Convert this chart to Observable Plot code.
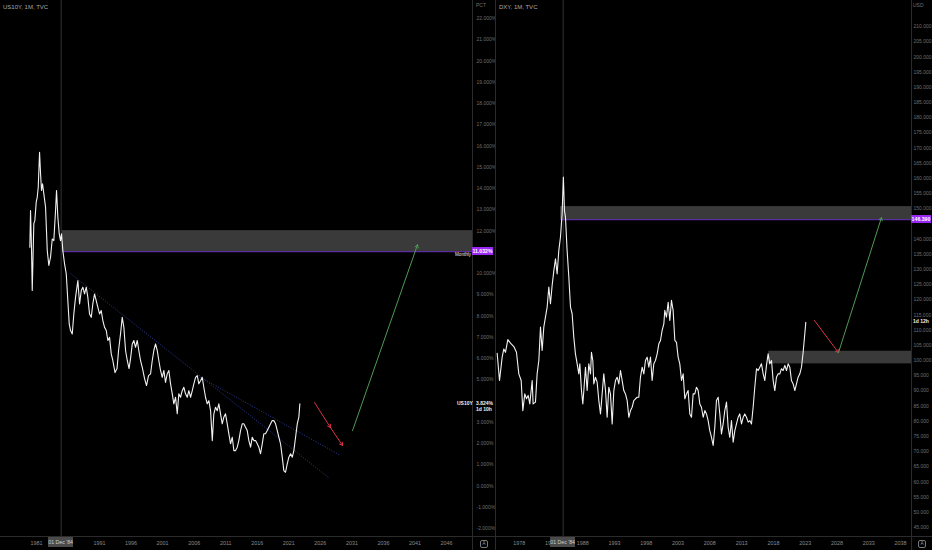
<!DOCTYPE html>
<html><head><meta charset="utf-8">
<script src="https://cdn.jsdelivr.net/npm/d3@7"></script>
<script src="https://cdn.jsdelivr.net/npm/@observablehq/plot@0.6"></script>
<style>
html,body{margin:0;padding:0;background:#000;}
#wrap{position:relative;width:932px;height:550px;overflow:hidden;background:#000;font-family:"Liberation Sans",Arial,sans-serif;}
#left,#right{position:absolute;top:0;}
#left{left:0;} #right{left:495px;}
.lbl{position:absolute;white-space:nowrap;line-height:1;}
</style></head><body><div id="wrap"><div id="left"></div><div id="right"></div></div>
<script>
// ---------- DATA ----------
// US10Y monthly close (decimal year, % yield)
const us10y = [[1979.96,11.24],[1980.07,12.96],[1980.23,11.08],[1980.34,9.20],[1980.59,12.35],[1980.75,12.49],[1980.97,13.36],[1981.13,13.59],[1981.29,14.06],[1981.50,15.71],[1981.66,14.69],[1981.81,13.91],[1981.97,14.22],[1982.18,13.75],[1982.45,13.12],[1982.72,11.08],[1982.97,10.38],[1983.24,10.77],[1983.51,11.63],[1983.76,11.55],[1984.03,12.96],[1984.19,13.91],[1984.40,12.65],[1984.62,11.87],[1984.82,11.55],[1984.98,11.87],[1985.19,11.08],[1985.46,10.46],[1985.73,9.99],[1985.98,8.73],[1986.20,7.63],[1986.41,7.32],[1986.68,7.16],[1986.93,8.10],[1987.20,8.88],[1987.57,9.67],[1987.84,8.57],[1988.11,9.20],[1988.36,9.36],[1988.63,9.04],[1988.90,9.36],[1989.15,8.88],[1989.42,8.10],[1989.69,7.94],[1989.94,8.57],[1990.21,9.04],[1990.48,8.73],[1990.74,8.41],[1991.01,8.10],[1991.27,8.26],[1991.53,7.79],[1991.80,7.47],[1992.07,7.32],[1992.32,6.85],[1992.59,7.00],[1992.86,6.22],[1993.11,5.91],[1993.46,5.34],[1993.78,5.53],[1994.02,6.38],[1994.33,7.16],[1994.60,7.94],[1994.86,7.47],[1995.13,6.38],[1995.40,5.91],[1995.68,5.53],[1995.92,6.00],[1996.19,6.69],[1996.44,6.85],[1996.71,6.53],[1996.98,6.85],[1997.23,6.38],[1997.50,5.91],[1997.82,5.53],[1998.14,5.06],[1998.45,4.73],[1998.77,5.20],[1999.09,5.28],[1999.36,5.91],[1999.61,6.38],[1999.88,6.69],[2000.15,6.38],[2000.40,5.91],[2000.67,5.44],[2000.94,5.12],[2001.20,5.44],[2001.46,4.88],[2001.73,5.28],[2001.99,5.44],[2002.26,4.81],[2002.53,4.34],[2002.78,3.87],[2003.05,4.18],[2003.32,3.40],[2003.57,4.34],[2003.84,4.18],[2004.11,4.49],[2004.36,4.65],[2004.63,4.34],[2004.90,4.18],[2005.16,4.49],[2005.43,4.18],[2005.70,4.49],[2005.95,4.81],[2006.22,5.12],[2006.49,5.20],[2006.74,4.81],[2007.01,4.96],[2007.28,5.12],[2007.53,4.65],[2007.80,4.18],[2008.07,3.87],[2008.33,4.02],[2008.60,3.55],[2008.87,2.14],[2009.12,3.40],[2009.39,3.71],[2009.66,3.55],[2009.91,3.87],[2010.18,3.40],[2010.45,2.93],[2010.70,3.24],[2010.97,3.40],[2011.24,2.93],[2011.50,2.46],[2011.77,1.99],[2012.04,2.30],[2012.29,1.67],[2012.56,1.67],[2012.83,1.83],[2013.08,2.14],[2013.35,2.61],[2013.62,2.93],[2013.87,2.93],[2014.14,2.77],[2014.41,2.61],[2014.67,2.14],[2014.94,1.83],[2015.21,2.30],[2015.46,2.14],[2015.73,2.14],[2016.00,1.99],[2016.25,1.83],[2016.52,1.52],[2016.79,1.99],[2017.04,2.46],[2017.31,2.46],[2017.58,2.61],[2017.84,2.77],[2018.11,2.93],[2018.37,3.08],[2018.63,3.08],[2018.90,2.93],[2019.17,2.61],[2019.42,2.30],[2019.69,1.99],[2019.96,1.36],[2020.21,0.73],[2020.48,0.65],[2020.75,1.04],[2021.01,1.36],[2021.28,1.52],[2021.55,1.36],[2021.80,1.67],[2022.07,2.30],[2022.34,2.93],[2022.59,3.24],[2022.75,3.87]];

// DXY monthly close (decimal year, index)
const dxy = [[1974.53,102.4],[1974.90,93.4],[1975.32,101.1],[1975.58,103.8],[1975.84,102.7],[1976.21,106.9],[1976.63,105.7],[1977.15,104.6],[1977.57,102.7],[1977.94,95.6],[1978.31,93.4],[1978.57,83.5],[1978.88,89.0],[1979.15,87.4],[1979.41,88.5],[1979.67,85.7],[1980.04,93.4],[1980.19,85.7],[1980.56,86.3],[1980.82,95.6],[1981.09,100.0],[1981.35,111.0],[1981.61,103.3],[1981.87,111.0],[1982.13,114.3],[1982.40,117.6],[1982.66,124.2],[1982.92,118.7],[1983.18,124.7],[1983.45,129.6],[1983.71,133.5],[1983.97,128.5],[1984.23,136.2],[1984.49,140.6],[1984.75,148.3],[1984.95,160.4],[1985.12,149.4],[1985.28,147.2],[1985.54,136.2],[1985.81,127.4],[1986.07,117.6],[1986.33,115.4],[1986.59,107.7],[1986.85,102.2],[1987.12,98.9],[1987.38,95.6],[1987.54,98.9],[1987.80,90.1],[1988.01,85.7],[1988.17,90.1],[1988.43,97.8],[1988.69,90.1],[1988.95,98.9],[1989.22,95.6],[1989.37,102.7],[1989.58,100.0],[1989.74,92.3],[1990.00,94.5],[1990.26,92.9],[1990.53,86.8],[1990.79,82.4],[1991.05,89.0],[1991.31,95.6],[1991.58,90.1],[1991.84,81.3],[1992.10,91.2],[1992.36,89.0],[1992.63,79.1],[1992.89,90.1],[1993.15,93.4],[1993.41,94.5],[1993.67,92.3],[1993.94,96.7],[1994.20,93.4],[1994.46,90.1],[1994.72,89.0],[1994.99,86.8],[1995.25,81.3],[1995.51,83.5],[1995.77,84.6],[1996.03,86.8],[1996.30,87.4],[1996.56,87.9],[1996.82,87.9],[1997.08,94.5],[1997.35,97.8],[1997.61,95.6],[1997.87,100.0],[1998.13,101.1],[1998.40,97.8],[1998.66,101.1],[1998.92,93.4],[1999.18,98.9],[1999.44,100.0],[1999.71,102.2],[1999.97,105.5],[2000.23,106.6],[2000.49,109.9],[2000.76,112.1],[2000.91,116.5],[2001.17,114.3],[2001.44,119.2],[2001.70,113.2],[2001.96,119.8],[2002.22,116.5],[2002.49,106.6],[2002.75,106.0],[2003.01,101.1],[2003.27,98.9],[2003.54,93.4],[2003.80,95.6],[2004.06,87.4],[2004.32,89.0],[2004.58,90.1],[2004.85,82.4],[2005.11,81.3],[2005.37,89.0],[2005.63,89.0],[2005.90,91.2],[2006.16,90.1],[2006.42,85.7],[2006.68,84.6],[2006.95,81.3],[2007.21,83.5],[2007.47,82.4],[2007.73,80.2],[2007.99,76.9],[2008.26,74.7],[2008.52,72.0],[2008.78,78.0],[2009.04,86.8],[2009.31,87.9],[2009.57,82.4],[2009.83,75.8],[2010.09,79.1],[2010.35,83.5],[2010.62,86.3],[2010.88,78.0],[2011.14,74.7],[2011.40,80.2],[2011.67,73.1],[2011.93,76.9],[2012.19,79.1],[2012.45,81.3],[2012.71,82.4],[2012.98,79.1],[2013.24,81.3],[2013.50,82.4],[2013.76,81.3],[2014.03,79.7],[2014.29,80.2],[2014.55,79.1],[2014.81,84.6],[2015.07,91.2],[2015.34,97.3],[2015.60,96.7],[2015.86,97.8],[2016.12,98.9],[2016.39,95.6],[2016.65,93.4],[2016.91,98.4],[2017.17,102.2],[2017.43,98.9],[2017.70,100.0],[2017.96,93.4],[2018.22,90.1],[2018.48,94.5],[2018.75,95.6],[2019.01,95.6],[2019.27,97.3],[2019.53,96.7],[2019.80,98.4],[2020.06,96.7],[2020.32,98.9],[2020.58,97.8],[2020.84,93.4],[2021.11,92.3],[2021.37,90.1],[2021.63,92.3],[2021.89,94.5],[2022.16,95.6],[2022.42,97.8],[2022.68,102.7],[2022.94,108.8],[2023.10,112.6]];

// visible ranges of each pane
const leftXDomain = [1975.31, 2050.11];
const leftYDomain = [-2.42, 22.85];
const rightXDomain = [1974.27, 2039.73];
const rightYDomain = [41.70, 218.58];

// tick labels
const leftYTicks = [-2,-1,0,1,2,3,5,6,7,8,9,10,12,13,14,15,16,17,18,19,20,21,22];
const rightYTicks = [45,50,55,60,65,70,75,80,85,90,95,100,105,110,115,120,125,130,135,140,150,155,160,165,170,175,180,185,190,195,200,205,210];
const leftXTicks = [1981,1991,1996,2001,2006,2011,2016,2021,2026,2031,2036,2041,2046];
const rightXTicks = [1978,1983,1988,1993,1998,2003,2008,2013,2018,2023,2028,2033,2038];
const cursorDate = 1984.92;

// drawings
const us10yZone = [{x1:1985.09, x2:2050.11, y1:11.032, y2:12.02}];
const us10yTrend = [{x1:1986.41, y1:10.0, x2:2027.30, y2:0.40},{x1:2006.54, y1:5.2, x2:2029.20, y2:1.44}];
const us10yDown = [{x1:2025.08, y1:3.93, x2:2027.61, y2:2.75},{x1:2027.61, y1:2.75, x2:2029.52, y2:1.91}];
const us10yUp = [{x1:2031.10, y1:2.61, x2:2041.40, y2:11.36}];
const dxyZones = [{x1:1984.5, x2:2039.73, y1:146.39, y2:150.7},{x1:2017.27, x2:2039.73, y1:98.9, y2:103.06}];
const dxyDown = [{x1:2024.46, y1:113.2, x2:2028.24, y2:102.6}];
const dxyUp = [{x1:2028.24, y1:102.6, x2:2035.01, y2:147.1}];
const us10yLevel = 11.032, dxyLevel = 146.39;
const us10yLast = 3.824, dxyLast = 112.6;

// ---------- STYLES ----------
const FONT = "Liberation Sans, Arial, sans-serif";
const AXC = "#6f6f6f";
const ZONE = "#3a3a3a", PURPLE = "#5a2d9c", PURPLE_BG = "#9b27f5";
const RED = "#d7334b", GREEN = "#4f9a55", TREND = "#2d3c9a";

function pane({width, marginRight, xDomain, yDomain, xTicks, yTicks, yFmt, yPad, series, marks}) {
  return Plot.plot({
    width, height: 550,
    marginTop: 0, marginLeft: 0, marginRight, marginBottom: 13,
    style: {background: "#000", color: AXC, fontFamily: FONT, overflow: "visible"},
    x: {domain: xDomain},
    y: {domain: yDomain},
    marks: [
      Plot.ruleX([cursorDate], {stroke: "#333", strokeWidth: 1}),
      ...marks,
      Plot.line(series, {x: d => d[0], y: d => d[1], stroke: "#f2f2f2", strokeWidth: 1.1, strokeLinejoin: "round"}),
      Plot.axisY(yTicks, {anchor: "right", tickSize: 0, tickPadding: yPad, tickFormat: yFmt, label: null, fontSize: 5, fill: AXC}),
      Plot.axisX(xTicks, {anchor: "bottom", tickSize: 0, tickPadding: 3.5, tickFormat: d => String(d), label: null, fontSize: 5.4, fill: "#8a8a8a"})
    ]
  });
}

const L = pane({
  width: 495, marginRight: 23, xDomain: leftXDomain, yDomain: leftYDomain, yPad: 4,
  xTicks: leftXTicks, yTicks: leftYTicks, yFmt: d => d.toFixed(3) + "%", series: us10y,
  marks: [
    Plot.rect(us10yZone, {x1: "x1", x2: "x2", y1: "y1", y2: "y2", fill: ZONE}),
    Plot.link([us10yZone[0]], {x1: "x1", x2: "x2", y1: "y1", y2: "y1", stroke: PURPLE, strokeWidth: 1.2}),
    Plot.link(us10yTrend, {x1: "x1", y1: "y1", x2: "x2", y2: "y2", stroke: TREND, strokeWidth: 1, strokeDasharray: "1,1.6"}),
    Plot.arrow(us10yDown, {x1: "x1", y1: "y1", x2: "x2", y2: "y2", stroke: RED, strokeWidth: 1, headLength: 5}),
    Plot.arrow(us10yUp, {x1: "x1", y1: "y1", x2: "x2", y2: "y2", stroke: GREEN, strokeWidth: 1, headLength: 5})
  ]
});
const R = pane({
  width: 437, marginRight: 21, xDomain: rightXDomain, yDomain: rightYDomain, yPad: 2,
  xTicks: rightXTicks, yTicks: rightYTicks, yFmt: d => d.toFixed(3), series: dxy,
  marks: [
    Plot.rect(dxyZones, {x1: "x1", x2: "x2", y1: "y1", y2: "y2", fill: ZONE}),
    Plot.link([dxyZones[0]], {x1: "x1", x2: "x2", y1: "y1", y2: "y1", stroke: PURPLE, strokeWidth: 1.2}),
    Plot.arrow(dxyDown, {x1: "x1", y1: "y1", x2: "x2", y2: "y2", stroke: RED, strokeWidth: 1, headLength: 5}),
    Plot.arrow(dxyUp, {x1: "x1", y1: "y1", x2: "x2", y2: "y2", stroke: GREEN, strokeWidth: 1, headLength: 5})
  ]
});
document.getElementById("left").appendChild(L);
document.getElementById("right").appendChild(R);

// ---------- overlays (price-scale labels etc.) ----------
const wrap = document.getElementById("wrap");
function lbl(text, x, y, css) {
  const d = document.createElement("div");
  d.className = "lbl"; d.textContent = text;
  d.style.cssText += `left:${x}px;top:${y}px;` + (css || "");
  wrap.appendChild(d); return d;
}
function line(x, y, w, h) {
  const d = document.createElement("div");
  d.style.cssText = `position:absolute;left:${x}px;top:${y}px;width:${w}px;height:${h}px;background:#2b2b2b;`;
  wrap.appendChild(d);
}
const Lx = v => L.scale("x").apply(v), Ly = v => L.scale("y").apply(v);
const Rx = v => 495 + R.scale("x").apply(v), Ry = v => R.scale("y").apply(v);
const Lright = L.scale("x").range[1], Rright = 495 + R.scale("x").range[1];

// separators
line(0, 536, 932, 1);
line(Lright, 0, 1, 550);
line(495, 0, 1, 550);
line(Rright, 0, 1, 550);

// titles and units
lbl("US10Y, 1M, TVC", 3, 4, "font-size:6px;color:#a8a8a8;");
lbl("DXY, 1M, TVC", 499, 4, "font-size:6px;color:#a8a8a8;");
lbl("PCT", 476, 3, "font-size:5px;color:#707070;");
lbl("USD", 913, 3, "font-size:5px;color:#707070;");

// level labels
lbl(us10yLevel.toFixed(3) + "%", Lright, Ly(us10yLevel) - 4, `font-size:5.2px;font-weight:bold;color:#fff;background:${PURPLE_BG};width:21px;height:8px;line-height:8px;text-align:center;`);
lbl("Monthly", Lright - 17, Ly(us10yLevel) + 1.5, "font-size:4.6px;color:#e8e8e8;");
lbl(dxyLevel.toFixed(3), Rright, Ry(dxyLevel) - 4, `font-size:5.2px;font-weight:bold;color:#fff;background:${PURPLE_BG};width:20px;height:8px;line-height:8px;text-align:center;`);

// last price labels
lbl("US10Y", Lright - 15, Ly(us10yLast) - 3, "font-size:5px;font-weight:bold;color:#f0f0f0;");
lbl(us10yLast.toFixed(3) + "%", Lright + 4, Ly(us10yLast) - 3, "font-size:5px;font-weight:bold;color:#f0f0f0;");
lbl("1d 10h", Lright + 4, Ly(us10yLast) + 3, "font-size:5px;font-weight:bold;color:#f0f0f0;");
lbl("1d 12h", Rright + 2, Ry(dxyLast) - 2.5, "font-size:5px;font-weight:bold;color:#f0f0f0;");

// cursor date labels on time axes
lbl("01 Dec '84", Lx(cursorDate) - 12.5, 537, "font-size:5.2px;color:#d0d0d0;background:#4a4a4a;width:25px;height:10px;line-height:10px;text-align:center;");
lbl("01 Dec '84", Rx(cursorDate) - 12.5, 537, "font-size:5.2px;color:#d0d0d0;background:#4a4a4a;width:25px;height:10px;line-height:10px;text-align:center;");

// auto-scale buttons
lbl("A", 480, 539.5, "font-size:4.6px;color:#9a9a9a;width:6px;height:6px;line-height:6px;text-align:center;border:1px solid #7a7a7a;border-radius:2px;");
lbl("A", 918, 539.5, "font-size:4.6px;color:#9a9a9a;width:6px;height:6px;line-height:6px;text-align:center;border:1px solid #7a7a7a;border-radius:2px;");
</script></body></html>
